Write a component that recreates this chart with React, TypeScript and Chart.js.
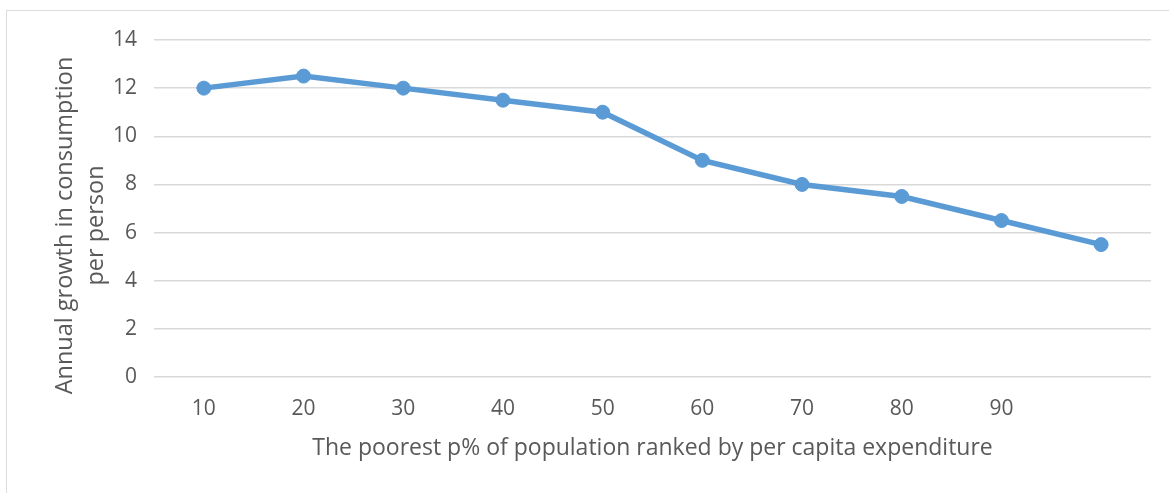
import React, { useEffect, useRef } from "react";
import { Chart, registerables } from "chart.js";

Chart.register(...registerables);

const categories = ["10", "20", "30", "40", "50", "60", "70", "80", "90", ""];
const growthValues = [12, 12.5, 12, 11.5, 11, 9, 8, 7.5, 6.5, 5.5];
const yTitle = ["Annual growth in consumption", "per person"];
const xTitle = "The poorest p% of population ranked by per capita expenditure";
const yMin = 0;
const yMax = 14;
const yStep = 2;

const FONT = "'Open Sans', 'DejaVu Sans', sans-serif";
const TEXT = "#595959";
const BLUE = "#5B9BD5";
const GRID = "#d9d9d9";

const yTitlePlugin = {
  id: "yTitlePlugin",
  afterDraw(chart: any) {
    const { ctx, chartArea } = chart;
    const yScale = chart.scales.y;
    const cy = (chartArea.top + chartArea.bottom) / 2 + 17;
    const lineH = 31;
    const x0 = yScale.left + 18;
    ctx.save();
    ctx.fillStyle = TEXT;
    ctx.font = `23.5px ${FONT}`;
    ctx.textAlign = "center";
    ctx.textBaseline = "middle";
    yTitle.forEach((line, i) => {
      ctx.save();
      ctx.translate(x0 + i * lineH, cy);
      ctx.rotate(-Math.PI / 2);
      ctx.fillText(line, 0, 0);
      ctx.restore();
    });
    ctx.restore();
  },
};

export default function App() {
  const ref = useRef<HTMLCanvasElement | null>(null);

  useEffect(() => {
    if (!ref.current) return;
    const chart = new Chart(ref.current, {
      type: "line",
      data: {
        labels: categories,
        datasets: [
          {
            data: growthValues,
            borderColor: BLUE,
            backgroundColor: BLUE,
            borderWidth: 5.5,
            pointRadius: 7,
            pointBorderWidth: 1,
            pointBackgroundColor: BLUE,
            pointBorderColor: BLUE,
            tension: 0,
          },
        ],
      },
      plugins: [yTitlePlugin],
      options: {
        responsive: false,
        animation: false,
        devicePixelRatio: 1,
        layout: { padding: { left: 47, right: 18, top: 40, bottom: 28 } },
        plugins: { legend: { display: false }, tooltip: { enabled: false } },
        scales: {
          x: {
            offset: true,
            grid: { display: false, drawTicks: false },
            border: { display: false },
            ticks: {
              color: TEXT,
              padding: 19,
              font: { family: FONT, size: 21, lineHeight: 1.2 },
              maxRotation: 0,
              autoSkip: false,
            },
            title: {
              display: true,
              text: xTitle,
              color: TEXT,
              padding: 0,
              font: { family: FONT, size: 23, lineHeight: 1.4 },
            },
            afterFit: (scale: any) => {
              scale.height = 88;
            },
          },
          y: {
            min: yMin,
            max: yMax,
            grid: { color: GRID, lineWidth: 1.5, drawTicks: false },
            border: { display: false },
            ticks: {
              stepSize: yStep,
              color: TEXT,
              padding: 17,
              font: { family: FONT, size: 21, lineHeight: 1.2 },
            },
            title: { display: false },
            afterFit: (scale: any) => {
              scale.width = 107;
            },
          },
        },
      },
    });
    return () => chart.destroy();
  }, []);

  return (
    <div>
      <div
        style={{
          position: "fixed",
          left: 6,
          top: 10,
          width: 1200,
          height: 600,
          border: "1.5px solid #dcdcdc",
          boxSizing: "border-box",
        }}
      />
      <canvas
        ref={ref}
        width={1169}
        height={493}
        style={{ position: "fixed", left: 0, top: 0, width: 1169, height: 493 }}
      />
    </div>
  );
}
